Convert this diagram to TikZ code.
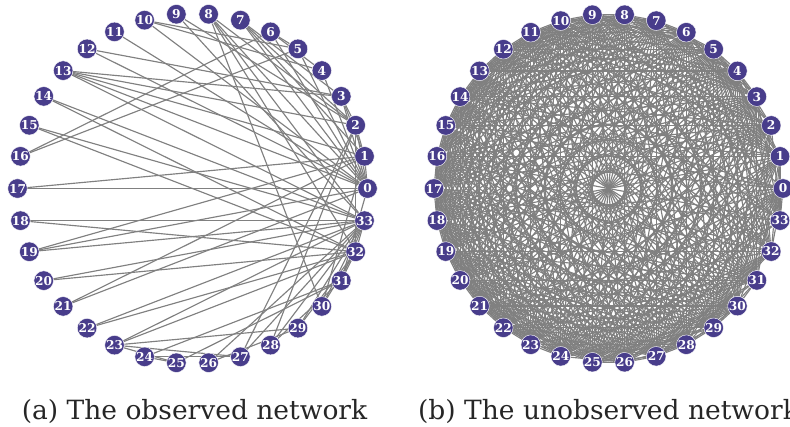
\documentclass[tikz,border=0pt]{standalone}
\usepackage{fontspec}
\setmainfont{DejaVu Serif}
\definecolor{nodefill}{RGB}{72,61,139}
\definecolor{edgegray}{RGB}{128,128,128}
\pgfdeclarelayer{bg}
\pgfsetlayers{bg,main}
\begin{document}
\begin{tikzpicture}[x=1pt,y=1pt,
  vtx/.style={circle,fill=nodefill,draw=white,line width=0.4pt,inner sep=0pt,minimum size=19.5pt,text=white,font=\bfseries\fontsize{12.2}{12.2}\selectfont},
  edgeline/.style={draw=edgegray,line width=1.15pt},
  captext/.style={font=\fontsize{26.5}{28}\selectfont,text=black!85,inner sep=0pt}]
\useasboundingbox (0,0) rectangle (790,426);
\foreach \i in {0,...,33}{
  \node[vtx] (a\i) at ({192.5+175*cos(\i*360/34)},{237.5+175*sin(\i*360/34)}) {\i};
  \node[vtx] (b\i) at ({608.5+174.5*cos(\i*360/34)},{237.5+174.5*sin(\i*360/34)}) {\i};
}
\begin{pgfonlayer}{bg}
\foreach \u/\v in {0/1,0/2,0/3,0/4,0/5,0/6,0/7,0/8,0/10,0/11,0/12,0/13,0/17,0/19,0/21,0/31,
  1/2,1/3,1/7,1/13,1/17,1/19,1/21,1/30,
  2/3,2/7,2/8,2/9,2/13,2/27,2/28,2/32,
  3/7,3/12,3/13,
  4/6,4/10,
  5/6,5/10,5/16,
  6/16,
  8/30,8/32,8/33,
  9/33,
  13/33,
  14/32,14/33,
  15/32,15/33,
  18/32,18/33,
  19/33,
  20/32,20/33,
  22/32,22/33,
  23/25,23/27,23/29,23/32,23/33,
  24/25,24/27,24/31,
  25/31,
  26/29,26/33,
  27/33,
  28/31,28/33,
  29/32,29/33,
  30/32,30/33,
  31/32,31/33,
  32/33}{
  \expandafter\gdef\csname kedge-\u-\v\endcsname{}
  \draw[edgeline] (a\u) -- (a\v);
}
\foreach \u in {0,...,32}{
  \pgfmathtruncatemacro\ustart{\u+1}
  \foreach \v in {\ustart,...,33}{
    \ifcsname kedge-\u-\v\endcsname\else
      \draw[edgeline] (b\u) -- (b\v);
    \fi
  }
}
\end{pgfonlayer}
\node[captext,anchor=base] (capa) at (194.5,6.5) {(a) The observed network};
\node[captext,anchor=base] (capb) at (608.5,6.5) {(b) The unobserved network};
\end{tikzpicture}
\end{document}
